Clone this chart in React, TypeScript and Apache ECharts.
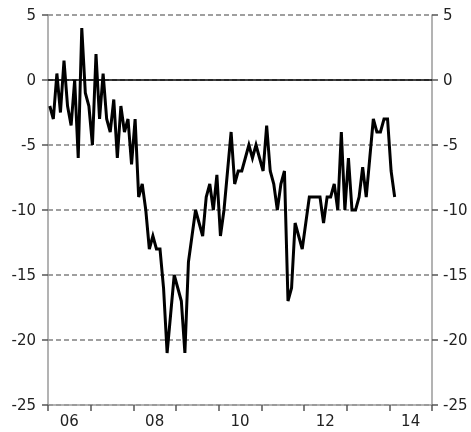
import React, { useEffect, useRef } from "react";
import * as echarts from "echarts";

// Monthly values, Jan 2006 onward
const values: number[] = [
  -2, -3, 0.5, -2.5, 1.5, -2, -3.5, 0, -6, 4, -1, -2,
  -5, 2, -3, 0.5, -3, -4, -1.5, -6, -2, -4, -3, -6.5,
  -3, -9, -8, -10, -13, -12, -13, -13, -16, -21, -18, -15,
  -16, -17, -21, -14, -12, -10, -11, -12, -9, -8, -10, -7.3,
  -12, -10, -7, -4, -8, -7, -7, -6, -5, -6, -5, -6,
  -7, -3.5, -7, -8, -10, -8, -7, -17, -16, -11, -12, -13,
  -11, -9, -9, -9, -9, -11, -9, -9, -8, -10, -4, -10,
  -6, -10, -10, -9, -6.7, -9, -6, -3, -4, -4, -3, -3,
  -7, -9,
];
const years: string[] = ["06", "07", "08", "09", "10", "11", "12", "13", "14"];
const yTicks = { min: -25, max: 5, step: 5 };

const FONT = "DejaVu Sans, Verdana, sans-serif";

export default function App() {
  const ref = useRef<HTMLDivElement>(null);
  useEffect(() => {
    if (!ref.current) return;
    document.body.style.margin = "0";
    document.body.style.overflow = "hidden";
    const chart = echarts.init(ref.current, undefined, { renderer: "svg" });
    const points = values.map((v, i) => [i + 0.5, v]);
    const axisGray = "#9a9a9a";
    const labelStyle = { color: "#222", fontSize: 15, fontFamily: FONT };
    chart.setOption({
      animation: false,
      grid: { left: 48, right: 39, top: 15, bottom: 27, containLabel: false },
      xAxis: [
        {
          type: "value",
          min: 0,
          max: years.length * 12,
          interval: 12,
          position: "bottom",
          axisLine: { show: true, onZero: false, lineStyle: { color: axisGray, width: 1.5 } },
          axisTick: { show: true, inside: false, length: 6, lineStyle: { color: "#555", width: 1.5 } },
          axisLabel: { show: false },
          splitLine: { show: false },
        },
        {
          type: "category",
          data: years,
          position: "bottom",
          boundaryGap: true,
          axisLine: { show: false },
          axisTick: { show: false },
          axisLabel: {
            ...labelStyle,
            interval: 0,
            margin: 8,
            hideOverlap: false,
            showMinLabel: true,
            showMaxLabel: true,
            formatter: (v: string, i: number) => (i % 2 === 0 ? v : ""),
          },
          splitLine: { show: false },
        },
      ],
      yAxis: [
        {
          type: "value",
          position: "left",
          min: yTicks.min,
          max: yTicks.max,
          interval: yTicks.step,
          axisLine: { show: true, onZero: false, lineStyle: { color: axisGray, width: 1.5 } },
          axisTick: { show: true, inside: false, length: 6, lineStyle: { color: "#555", width: 1.5 } },
          axisLabel: { ...labelStyle, margin: 12, showMinLabel: true, showMaxLabel: true },
          splitLine: { show: true, lineStyle: { color: "#808080", type: [5, 3], width: 1.5 } },
        },
        {
          type: "value",
          position: "right",
          min: yTicks.min,
          max: yTicks.max,
          interval: yTicks.step,
          axisLine: { show: true, onZero: false, lineStyle: { color: axisGray, width: 1.5 } },
          axisTick: { show: true, inside: false, length: 6, lineStyle: { color: "#555", width: 1.5 } },
          axisLabel: { ...labelStyle, margin: 11, showMinLabel: true, showMaxLabel: true },
          splitLine: { show: false },
        },
      ],
      series: [
        {
          type: "line",
          xAxisIndex: 0,
          yAxisIndex: 0,
          data: points,
          showSymbol: false,
          symbol: "none",
          lineStyle: { color: "#000", width: 3, join: "miter" },
          z: 5,
          markLine: {
            silent: true,
            symbol: "none",
            label: { show: false },
            lineStyle: { color: "#000", type: "solid", width: 1.5 },
            data: [{ yAxis: 0 }],
            z: 4,
          },
        },
      ],
    });
    return () => chart.dispose();
  }, []);
  return (
    <div
      ref={ref}
      style={{ position: "fixed", left: 0, top: 0, width: 471, height: 432 }}
    />
  );
}
